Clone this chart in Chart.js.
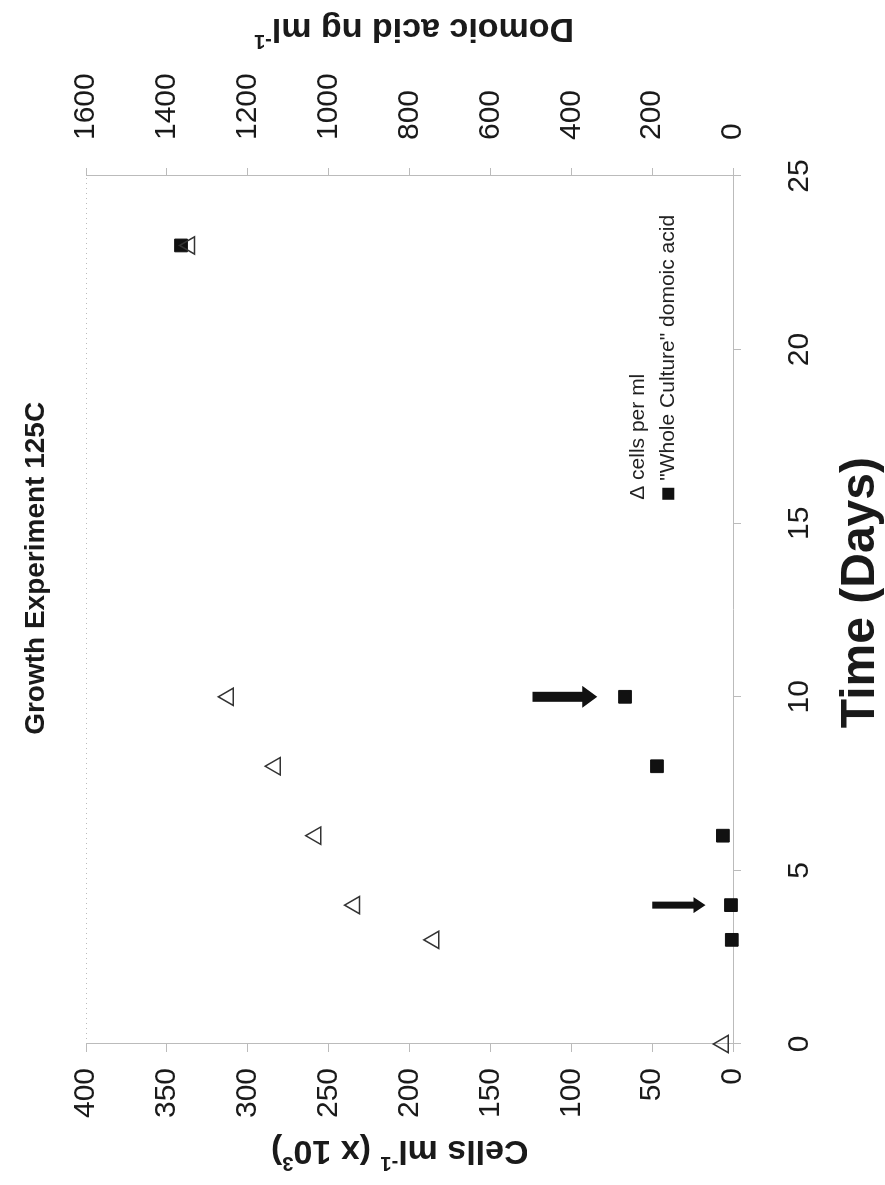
<!DOCTYPE html>
<html lang="en">
<head>
<meta charset="UTF-8">
<title>Growth Experiment 125C</title>
<script src="https://cdn.jsdelivr.net/npm/chart.js"></script>
<style>
  html, body { margin: 0; padding: 0; background: #fff; overflow: hidden; }
  /* the chart is drawn landscape, then turned a quarter to the left like the scan */
  #wrap { position: absolute; left: 0; top: 0; width: 1185px; height: 885px;
          transform-origin: 0 0; transform: translateY(1185px) rotate(-90deg); }
</style>
</head>
<body>
<div id="wrap"><canvas id="growthChart" width="1185" height="885"></canvas></div>
<script>
const cellDays = [0, 3, 4, 6, 8, 10, 23];
const cellsPerMl = [6, 185, 234, 258, 283, 312, 336];
const acidDays = [3, 4, 6, 8, 10, 23];
const domoicAcid = [3, 5, 25, 188, 267, 1365];
const timeTicks = [0, 5, 10, 15, 20, 25];
const cellTicks = [0, 50, 100, 150, 200, 250, 300, 350, 400];
const acidTicks = [0, 200, 400, 600, 800, 1000, 1200, 1400, 1600];
const arrowDays = [4, 10];
const arrowFrom = [50, 124];   // in cells axis units
const arrowTo = [17, 84];
const arrowStyles = [{shaft: 7, head: 16, len: 12}, {shaft: 10, head: 22, len: 15}];

const FONT = "'Liberation Sans', Arial, sans-serif";
const ink = '#1a1a1a';

function drawRich(ctx, runs, x, y, size, rot) {
  ctx.save();
  ctx.translate(x, y);
  ctx.rotate(rot);
  const big = `bold ${size}px ${FONT}`;
  const small = `bold ${Math.round(size * 0.6)}px ${FONT}`;
  let total = 0;
  const widths = runs.map(r => {
    ctx.font = r.sup ? small : big;
    const w = ctx.measureText(r.t).width;
    total += w;
    return w;
  });
  let cx = -total / 2;
  ctx.textAlign = 'left';
  ctx.textBaseline = 'middle';
  ctx.fillStyle = ink;
  runs.forEach((r, i) => {
    ctx.font = r.sup ? small : big;
    ctx.fillText(r.t, cx, r.sup ? -size * 0.38 : 0);
    cx += widths[i];
  });
  ctx.restore();
}

const extras = {
  id: 'extras',
  afterDraw(chart) {
    const {ctx, chartArea: a, scales} = chart;
    ctx.save();

    // dotted frame on the side without an axis
    ctx.strokeStyle = '#bbb';
    ctx.lineWidth = 1;
    ctx.setLineDash([1, 4]);
    ctx.beginPath();
    ctx.moveTo(a.left, a.top + 0.5);
    ctx.lineTo(a.right, a.top + 0.5);
    ctx.stroke();
    ctx.setLineDash([]);

    // arrows
    ctx.fillStyle = '#111';
    arrowDays.forEach((d, i) => {
      const x = scales.x.getPixelForValue(d);
      const y0 = scales.y.getPixelForValue(arrowFrom[i]);
      const y1 = scales.y.getPixelForValue(arrowTo[i]);
      const st = arrowStyles[i];
      ctx.beginPath();
      ctx.moveTo(x - st.shaft / 2, y0);
      ctx.lineTo(x + st.shaft / 2, y0);
      ctx.lineTo(x + st.shaft / 2, y1 - st.len);
      ctx.lineTo(x + st.head / 2, y1 - st.len);
      ctx.lineTo(x, y1);
      ctx.lineTo(x - st.head / 2, y1 - st.len);
      ctx.lineTo(x - st.shaft / 2, y1 - st.len);
      ctx.closePath();
      ctx.fill();
    });

    // legend inside the plot
    const lx = a.left + a.width * 0.627;
    const ly1 = a.top + a.height * 0.853;
    const ly2 = a.top + a.height * 0.9;
    ctx.font = `21px ${FONT}`;
    ctx.fillStyle = '#222';
    ctx.textAlign = 'left';
    ctx.textBaseline = 'middle';
    ctx.fillText('\u0394 cells per ml', lx, ly1);
    ctx.fillStyle = '#111';
    ctx.fillRect(lx, ly2 - 6, 12, 12);
    ctx.fillStyle = '#222';
    ctx.fillText('"Whole Culture" domoic acid', lx + 19, ly2);

    // title and time axis title
    ctx.fillStyle = ink;
    ctx.textAlign = 'center';
    ctx.font = `bold 28px ${FONT}`;
    ctx.fillText('Growth Experiment 125C', a.left + a.width * 0.548, 36);
    ctx.font = `bold 48px ${FONT}`;
    ctx.fillText('Time (Days)', a.left + a.width * 0.52, chart.height - 24);
    ctx.restore();

    // axis titles with superscripts
    drawRich(ctx, [{t: 'Cells ml'}, {t: '-1', sup: true}, {t: ' (x 10'}, {t: '3', sup: true}, {t: ')'}],
      35, a.top + a.height * 0.485, 34, -Math.PI / 2);
    drawRich(ctx, [{t: 'Domoic acid ng ml'}, {t: '-1', sup: true}],
      chart.width - 28, a.top + a.height * 0.507, 34, -Math.PI / 2);
  }
};

const tickFont = {family: FONT, size: 30};
const frame = {color: '#bbb', dash: [1, 4]};
const marks = {drawOnChartArea: false, drawTicks: true, tickLength: 8, color: '#bbb'};
const plain = v => String(v);

new Chart(document.getElementById('growthChart'), {
  type: 'scatter',
  data: {
    datasets: [
      {
        label: 'cells per ml',
        data: cellDays.map((d, i) => ({x: d, y: cellsPerMl[i]})),
        yAxisID: 'y',
        pointStyle: 'triangle',
        pointRadius: 10,
        borderColor: '#333',
        backgroundColor: 'rgba(0,0,0,0)',
        borderWidth: 1.5,
        clip: false
      },
      {
        label: '"Whole Culture" domoic acid',
        data: acidDays.map((d, i) => ({x: d, y: domoicAcid[i]})),
        yAxisID: 'y2',
        pointStyle: 'rect',
        pointRadius: 9,
        borderColor: '#111',
        backgroundColor: '#111',
        borderWidth: 1,
        clip: false
      }
    ]
  },
  options: {
    responsive: false,
    animation: false,
    layout: {padding: {top: 86, left: 0, right: 0, bottom: 0}},
    plugins: {legend: {display: false}, tooltip: {enabled: false}},
    scales: {
      x: {
        type: 'linear', position: 'bottom', min: 0, max: 25,
        afterBuildTicks: s => { s.ticks = timeTicks.map(v => ({value: v})); },
        afterFit: s => { s.height = 152; },
        ticks: {font: tickFont, color: ink, padding: 41, callback: plain},
        grid: marks, border: frame
      },
      y: {
        type: 'linear', position: 'left', min: 0, max: 400,
        afterBuildTicks: s => { s.ticks = cellTicks.map(v => ({value: v})); },
        afterFit: s => { s.width = 141; },
        ticks: {font: tickFont, color: ink, padding: 16, callback: plain},
        grid: marks, border: frame
      },
      y2: {
        type: 'linear', position: 'right', min: 0, max: 1600,
        afterBuildTicks: s => { s.ticks = acidTicks.map(v => ({value: v})); },
        afterFit: s => { s.width = 176; },
        ticks: {font: tickFont, color: ink, padding: 28, callback: plain},
        grid: marks, border: frame
      }
    }
  },
  plugins: [extras]
});
</script>
</body>
</html>
